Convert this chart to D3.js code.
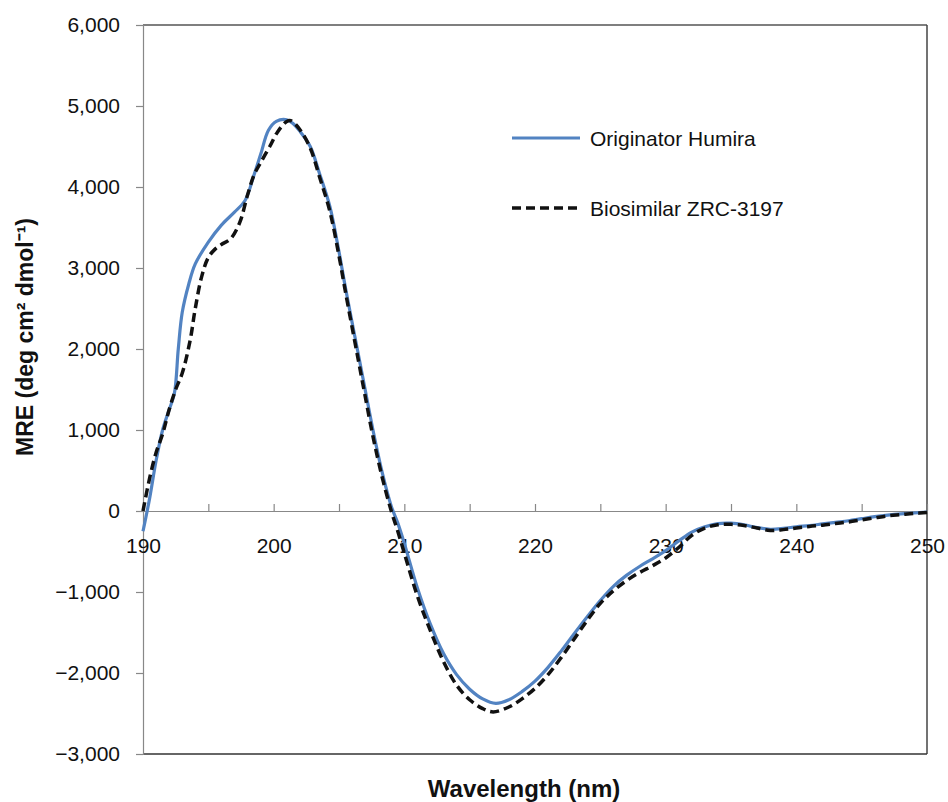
<!DOCTYPE html>
<html>
<head>
<meta charset="utf-8">
<script src="https://cdn.jsdelivr.net/npm/d3@7"></script>
<style>
  body { margin: 0; background: #fff; }
  text { font-family: "Liberation Sans", Arial, sans-serif; fill: #111; }
</style>
</head>
<body>
<div id="chartContainer"></div>
<script>
// Originator Humira (wavelength nm, MRE)
const originatorWl = [190, 190.5, 191, 191.5, 192, 192.4, 192.7, 193, 193.5, 194, 195, 196, 197, 197.8, 198.5, 199, 199.6, 200.2, 201, 201.5, 202, 202.8, 203.5, 204.3, 205, 205.5, 206.4, 207, 207.6, 208.3, 209, 209.5, 210, 211, 212, 213, 214, 215, 216, 217, 218, 219, 220, 221, 222, 223, 224, 225, 226, 227, 228, 229, 230, 231, 232, 233, 234, 235, 236, 237, 238, 239, 240, 241, 242, 243, 244, 245, 246, 247, 248, 249, 250];
const originatorMre = [-250, 150, 620, 1000, 1250, 1450, 2000, 2450, 2800, 3050, 3320, 3530, 3690, 3830, 4150, 4400, 4700, 4810, 4830, 4780, 4690, 4500, 4170, 3760, 3200, 2750, 2000, 1500, 1000, 480, 60, -150, -400, -950, -1400, -1760, -2020, -2200, -2320, -2375, -2330, -2230, -2100, -1930, -1730, -1515, -1305, -1105, -930, -795, -685, -590, -490, -370, -260, -195, -155, -150, -170, -205, -225, -215, -195, -180, -160, -140, -120, -95, -70, -50, -35, -25, -15];

// Biosimilar ZRC-3197 (wavelength nm, MRE)
const biosimilarWl = [190, 190.5, 191, 191.5, 192, 192.5, 193, 193.6, 194, 194.5, 195, 195.5, 196, 196.7, 197.4, 198, 198.5, 199, 199.7, 200.3, 201, 201.3, 202, 202.8, 203.5, 204.3, 205, 205.5, 206.4, 207, 207.6, 208.3, 209, 209.5, 210, 211, 212, 213, 214, 215, 216, 216.8, 218, 219, 220, 221, 222, 223, 224, 225, 226, 227, 228, 229, 230, 231, 232, 233, 234, 235, 236, 237, 238, 239, 240, 241, 242, 243, 244, 245, 246, 247, 248, 249, 250];
const biosimilarMre = [0, 400, 720, 950, 1250, 1500, 1700, 2100, 2500, 2900, 3130, 3230, 3290, 3360, 3560, 3900, 4150, 4300, 4500, 4680, 4810, 4820, 4710, 4480, 4130, 3700, 3150, 2700, 1930, 1420, 920, 420, 0, -250, -520, -1050, -1480, -1860, -2150, -2330, -2440, -2480, -2420, -2320, -2190, -2020, -1810, -1580, -1350, -1140, -985, -860, -760, -675, -580, -450, -300, -210, -170, -165, -180, -210, -240, -230, -210, -190, -175, -155, -135, -110, -85, -60, -45, -30, -20];

const xTicks = [190, 195, 200, 205, 210, 215, 220, 225, 230, 235, 240, 245, 250];
const yTicks = [-3000, -2000, -1000, 0, 1000, 2000, 3000, 4000, 5000, 6000];
const seriesNames = ["Originator Humira", "Biosimilar ZRC-3197"];

// Dimensions
const margin = { top: 25, right: 21, bottom: 48, left: 143 };
const width = 948 - margin.left - margin.right;
const height = 802 - margin.top - margin.bottom;

const svg = d3.select("#chartContainer")
    .append("svg")
    .attr("width", 948)
    .attr("height", 802)
    .append("g")
    .attr("transform", "translate(" + margin.left + "," + margin.top + ")");

// Scales
const xScale = d3.scaleLinear().domain([190, 250]).range([0, width]);
const yScale = d3.scaleLinear().domain([-3000, 6000]).range([height, 0]);

// Frame: top, right, bottom lines
svg.append("line").attr("x1", 0).attr("x2", width).attr("y1", 0).attr("y2", 0)
    .attr("stroke", "#555").attr("stroke-width", 1.5);
svg.append("line").attr("x1", width).attr("x2", width).attr("y1", 0).attr("y2", height)
    .attr("stroke", "#444").attr("stroke-width", 1.5);
svg.append("line").attr("x1", 0).attr("x2", width).attr("y1", height).attr("y2", height)
    .attr("stroke", "#333").attr("stroke-width", 1.5);

// Y axis
const yAxis = d3.axisLeft(yScale)
    .tickValues(yTicks)
    .tickFormat(d3.format(","))
    .tickSize(7)
    .tickPadding(16);
const yG = svg.append("g").call(yAxis);
yG.selectAll("path, line").attr("stroke", "#888").attr("stroke-width", 1.2);
yG.selectAll("text").style("font-size", "21px").attr("fill", "#111");

// X axis along zero, ticks pointing up
const xAxis = d3.axisBottom(xScale)
    .tickValues(xTicks)
    .tickFormat(d => d % 10 === 0 ? d : "")
    .tickSizeInner(-7)
    .tickSizeOuter(0)
    .tickPadding(27);
const xG = svg.append("g")
    .attr("transform", "translate(0," + yScale(0) + ")")
    .call(xAxis);
xG.selectAll("path, line").attr("stroke", "#888").attr("stroke-width", 1.2);
xG.selectAll("text").style("font-size", "21px").attr("fill", "#111");

// Lines
const line = d3.line()
    .x(d => xScale(d[0]))
    .y(d => yScale(d[1]))
    .curve(d3.curveCatmullRom.alpha(0.5));

const originatorData = originatorWl.map((w, i) => [w, originatorMre[i]]);
const biosimilarData = biosimilarWl.map((w, i) => [w, biosimilarMre[i]]);

svg.append("path")
    .datum(originatorData)
    .attr("fill", "none")
    .attr("stroke", "#5283c2")
    .attr("stroke-width", 3.2)
    .attr("d", line);

svg.append("path")
    .datum(biosimilarData)
    .attr("fill", "none")
    .attr("stroke", "#111")
    .attr("stroke-width", 3.5)
    .attr("stroke-dasharray", "9,5")
    .attr("d", line);

// Legend
const legend = svg.append("g").attr("transform", "translate(369,113)");
legend.append("line").attr("x1", 0).attr("x2", 68).attr("y1", 0).attr("y2", 0)
    .attr("stroke", "#5283c2").attr("stroke-width", 3.2);
legend.append("text").attr("x", 78).attr("y", 8).style("font-size", "21px").text(seriesNames[0]);
legend.append("line").attr("x1", 0).attr("x2", 68).attr("y1", 70).attr("y2", 70)
    .attr("stroke", "#111").attr("stroke-width", 3.5).attr("stroke-dasharray", "9,5");
legend.append("text").attr("x", 78).attr("y", 78).style("font-size", "21px").text(seriesNames[1]);

// Axis titles
svg.append("text")
    .attr("x", 524 - margin.left)
    .attr("y", 797 - margin.top)
    .attr("text-anchor", "middle")
    .style("font-size", "24px")
    .style("font-weight", "bold")
    .text("Wavelength (nm)");

svg.append("text")
    .attr("transform", "rotate(-90)")
    .attr("x", -(337 - margin.top))
    .attr("y", 33 - margin.left)
    .attr("text-anchor", "middle")
    .style("font-size", "23px")
    .style("font-weight", "bold")
    .text("MRE (deg cm² dmol⁻¹)");
</script>
</body>
</html>
